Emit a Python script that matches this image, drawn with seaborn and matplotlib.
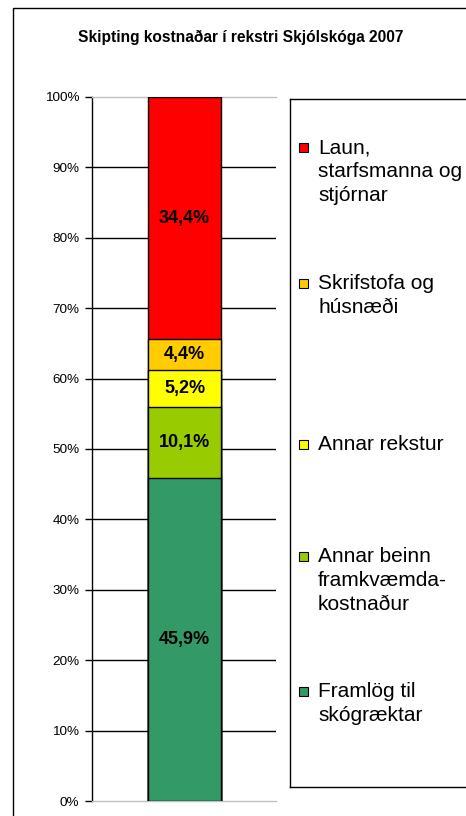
import numpy as np
import pandas as pd
import matplotlib
matplotlib.use("Agg")
import matplotlib.pyplot as plt
from matplotlib.patches import Rectangle
import seaborn as sns

# ---- data ----
categories = ["Framlög til\nskógræktar",
              "Annar beinn\nframkvæmda-\nkostnaður",
              "Annar rekstur",
              "Skrifstofa og\nhúsnæði",
              "Laun,\nstarfsmanna og\nstjórnar"]
values = [45.9, 10.1, 5.2, 4.4, 34.4]
value_labels = ["45,9%", "10,1%", "5,2%", "4,4%", "34,4%"]
colors = ["#339966", "#99CC00", "#FFFF00", "#FFCC00", "#FF0000"]
title = "Skipting kostnaðar í rekstri Skjólskóga 2007"
yticks = [0, 10, 20, 30, 40, 50, 60, 70, 80, 90, 100]
ytick_labels = [f"{t}%" for t in yticks]

sns.set_style("white")
plt.rcParams["font.family"] = ["Liberation Sans", "DejaVu Sans"]
plt.rcParams["text.color"] = "black"
plt.rcParams["ytick.color"] = "black"
plt.rcParams["ytick.labelcolor"] = "black"

W, H = 466, 816
fig = plt.figure(figsize=(W / 100, H / 100), dpi=100)

# outer chart frame (extends past right/bottom edges)
fig.patches.append(Rectangle((13 / W, -0.05), 1.1, 1 - 8 / H + 0.05,
                             transform=fig.transFigure, fill=False,
                             edgecolor="black", linewidth=1.0))

# main axes
L, R, T, B = 92, 276, 97, 801
ax = fig.add_axes([L / W, 1 - B / H, (R - L) / W, (B - T) / H])

cum = np.cumsum(values)
bottoms = cum - np.array(values)
df = pd.DataFrame({"seg": categories, "cum": cum, "grp": ["x"] * len(values)})
order_draw = categories[::-1]
palette = dict(zip(categories, colors))
sns.barplot(data=df, x="grp", y="cum", hue="seg", hue_order=order_draw,
            palette=palette, dodge=False, width=0.8, saturation=1,
            edgecolor="black", linewidth=1.0, legend=False, ax=ax, zorder=3)

for b, v, lab in zip(bottoms, values, value_labels):
    ax.text(0, b + v / 2, lab, ha="center", va="center", color="black",
            fontsize=13, fontweight="bold", zorder=5)

ax.set_ylim(0, 100)
ax.set_xlim(-1.0136, 1.0024)
ax.set_yticks(yticks)
ax.set_yticklabels(ytick_labels, fontsize=9.7, color="black")
ax.set_xticks([])
ax.set_xlabel("")
ax.set_ylabel("")
ax.tick_params(axis="y", direction="out", length=5, width=1, color="black",
               pad=4, left=True)
for t in yticks[1:-1]:
    ax.axhline(t, color="black", linewidth=1.0, zorder=1)
ax.spines["right"].set_visible(False)
ax.spines["top"].set_color("#C0C0C0")
ax.spines["bottom"].set_color("#C0C0C0")
ax.spines["left"].set_color("black")
for s in ax.spines.values():
    s.set_linewidth(1.0)

fig.text(241 / W, 1 - 37 / H, title, ha="center", va="center",
         fontsize=11.2, fontweight="bold", color="black")

# legend box
lx0, lx1, ly0, ly1 = 290, 470, 99, 787
lax = fig.add_axes([lx0 / W, 1 - ly1 / H, (lx1 - lx0) / W, (ly1 - ly0) / H])
lax.set_xlim(lx0, lx1)
lax.set_ylim(ly1, ly0)
lax.set_xticks([])
lax.set_yticks([])
for s in lax.spines.values():
    s.set_color("black")
    s.set_linewidth(1.0)
leg_y = [692, 557, 445, 284, 148]
for cat, col, y in zip(categories, colors, leg_y):
    lax.add_patch(Rectangle((299, y - 5), 9, 9, facecolor=col,
                            edgecolor="black", linewidth=0.8))
    lax.text(318, y - 10, cat, ha="left", va="top", fontsize=15,
             linespacing=1.32, color="black")

fig.savefig("out.png", dpi=100)
